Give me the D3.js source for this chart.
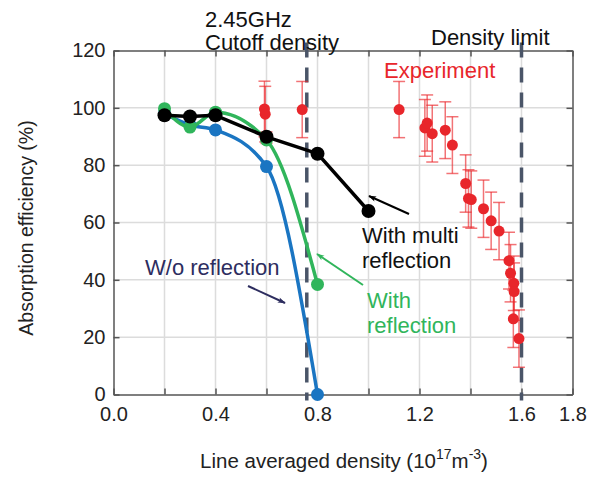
<!DOCTYPE html>
<html><head><meta charset="utf-8">
<script src="https://cdn.jsdelivr.net/npm/d3@7"></script>
<style>body{margin:0;background:#fff}svg{display:block;font-family:"Liberation Sans",Arial,sans-serif}</style>
</head><body><svg id="c" width="602" height="479"></svg>
<script>
// ---- data ----
const simX = [0.2, 0.3, 0.4, 0.6, 0.8];
const woReflection = [98, 94, 92.3, 79.5, 0];
const withReflection = [99.7, 93.3, 98.5, 88.8, 38.4];
const multiX = [0.2, 0.3, 0.4, 0.6, 0.8, 1.0];
const withMultiReflection = [97.4, 97.0, 97.4, 89.9, 84.0, 64.0];
const expX = [0.592, 0.595, 0.600, 0.740, 1.120, 1.221, 1.230, 1.250, 1.301, 1.329, 1.381, 1.392, 1.403, 1.451, 1.481, 1.512, 1.551, 1.557, 1.570, 1.571, 1.568, 1.590];
const expY = [99.6, 97.8, 89.6, 99.4, 99.4, 93.0, 94.7, 91.0, 92.2, 87.0, 73.6, 68.4, 68.0, 64.8, 60.6, 57.0, 46.7, 42.3, 38.8, 35.9, 26.4, 19.5];
const expErr = [9.7, 9.7, 2, 9.8, 9.8, 9.9, 9.8, 9.9, 9.9, 9.9, 10, 10, 10, 10, 10, 10, 9.9, 10, 9.5, 10, 10, 10];
const cutoffDensity = 0.758;
const densityLimit = 1.6;
const xTicks = [0, 0.2, 0.4, 0.6, 0.8, 1.0, 1.2, 1.4, 1.6, 1.8];
const xTickLabels = ["0.0", "", "0.4", "", "0.8", "", "1.2", "", "1.6", "1.8"];
const yTicks = [0, 20, 40, 60, 80, 100, 120];

// ---- chart ----
const svg = d3.select("#c");
const x = d3.scaleLinear().domain([0, 1.8]).range([113.5, 572.5]);
const y = d3.scaleLinear().domain([0, 120]).range([394.5, 50.5]);
const X0 = x.range()[0], X1 = x.range()[1], Y0 = y.range()[0], Y1 = y.range()[1];

// grid
const grid = svg.append("g").attr("stroke", "#dcdcdc").attr("stroke-width", 1.5);
grid.selectAll("line.v").data(xTicks.slice(1, -1)).join("line")
  .attr("x1", d => x(d)).attr("x2", d => x(d)).attr("y1", Y1).attr("y2", Y0);
grid.selectAll("line.h").data(yTicks.slice(1, -1)).join("line")
  .attr("x1", X0).attr("x2", X1).attr("y1", d => y(d)).attr("y2", d => y(d));

// axes
const fmtX = d => xTickLabels[xTicks.findIndex(t => Math.abs(t - d) < 1e-9)];
function styleAxis(g) {
  g.select(".domain").attr("stroke", "#555").attr("stroke-width", 1.5);
  g.selectAll(".tick line").attr("stroke", "#555").attr("stroke-width", 1.5);
  g.selectAll(".tick text").attr("fill", "#222").style("font-size", "20px").style("font-family", "Liberation Sans, Arial, sans-serif");
}
svg.append("g").attr("transform", `translate(0,${Y0})`)
  .call(d3.axisBottom(x).tickValues(xTicks).tickFormat(fmtX).tickSizeInner(-6).tickSizeOuter(0).tickPadding(12))
  .call(styleAxis);
svg.append("g").attr("transform", `translate(0,${Y1})`)
  .call(d3.axisTop(x).tickValues(xTicks).tickFormat("").tickSizeInner(-6).tickSizeOuter(0))
  .call(styleAxis);
svg.append("g").attr("transform", `translate(${X0},0)`)
  .call(d3.axisLeft(y).tickValues(yTicks).tickSizeInner(-6).tickSizeOuter(0).tickPadding(8))
  .call(styleAxis);
svg.append("g").attr("transform", `translate(${X1},0)`)
  .call(d3.axisRight(y).tickValues(yTicks).tickFormat("").tickSizeInner(-6).tickSizeOuter(0))
  .call(styleAxis);

// dashed reference lines
const dashColor = "#4a5568";
svg.selectAll("line.ref").data([cutoffDensity, densityLimit]).join("line")
  .attr("x1", d => x(d)).attr("x2", d => x(d)).attr("y1", Y1 - 8).attr("y2", Y0 + 6)
  .attr("stroke", dashColor).attr("stroke-width", 3.5).attr("stroke-dasharray", "15,10");

// experiment error bars
const errColor = "rgba(235,40,45,0.65)";
const eb = svg.append("g").attr("stroke", errColor).attr("stroke-width", 1.5);
expX.forEach((vx, i) => {
  const cx = x(vx), t = y(expY[i] + expErr[i]), b = y(expY[i] - expErr[i]);
  eb.append("line").attr("x1", cx).attr("x2", cx).attr("y1", t).attr("y2", b);
  eb.append("line").attr("x1", cx - 6).attr("x2", cx + 6).attr("y1", t).attr("y2", t);
  eb.append("line").attr("x1", cx - 6).attr("x2", cx + 6).attr("y1", b).attr("y2", b);
});

// simulation lines
function series(xs, ys, color, curve, r) {
  const pts = xs.map((d, i) => [d, ys[i]]);
  svg.append("path").datum(pts)
    .attr("d", d3.line().x(d => x(d[0])).y(d => y(d[1])).curve(curve))
    .attr("fill", "none").attr("stroke", color).attr("stroke-width", 3.5).attr("stroke-linejoin", "round");
  svg.append("g").selectAll("circle").data(pts).join("circle")
    .attr("cx", d => x(d[0])).attr("cy", d => y(d[1])).attr("r", r).attr("fill", color);
}
const blue = "#1a75c2", green = "#30b55b";
series(simX, woReflection, blue, d3.curveMonotoneX, 6.5);
series(simX, withReflection, green, d3.curveMonotoneX, 6.5);

// experiment points
svg.append("g").selectAll("circle").data(expX).join("circle")
  .attr("cx", d => x(d)).attr("cy", (d, i) => y(expY[i])).attr("r", 5.5).attr("fill", "#e8262b");

series(multiX, withMultiReflection, "#000", d3.curveLinear, 7);

// arrows
const defs = svg.append("defs");
function marker(id, color) {
  defs.append("marker").attr("id", id).attr("viewBox", "0 0 10 10").attr("refX", 9).attr("refY", 5)
    .attr("markerWidth", 10).attr("markerHeight", 8).attr("markerUnits", "userSpaceOnUse").attr("orient", "auto")
    .append("path").attr("d", "M0,1.5 L10,5 L0,8.5 L2.5,5 Z").attr("fill", color);
}
const navy = "#2d2d5f";
marker("aN", navy); marker("aK", "#000"); marker("aG", green);
function arrow(x1, y1, x2, y2, color, m) {
  svg.append("line").attr("x1", x1).attr("y1", y1).attr("x2", x2).attr("y2", y2)
    .attr("stroke", color).attr("stroke-width", 2).attr("marker-end", `url(#${m})`);
}
arrow(248, 286, 285, 303, navy, "aN");
arrow(409, 214, 369, 196, "#000", "aK");
arrow(363, 285, 317, 254, green, "aG");

// texts
function txt(s, tx, ty, color, size) {
  return svg.append("text").attr("x", tx).attr("y", ty).attr("fill", color).style("font-size", size + "px").text(s);
}
txt("2.45GHz", 205, 27, "#111", 22);
txt("Cutoff density", 205, 50, "#111", 22);
txt("Density limit", 431, 45, "#111", 22);
txt("Experiment", 384, 78, "#e8262b", 22);
txt("With multi", 362, 243, "#111", 22);
txt("reflection", 362, 268, "#111", 22);
txt("With", 367, 308, green, 22);
txt("reflection", 367, 333, green, 22);
txt("W/o reflection", 145, 275, navy, 22);

// axis titles
svg.append("text").attr("transform", "translate(33,228) rotate(-90)").attr("text-anchor", "middle")
  .attr("fill", "#222").style("font-size", "19.5px").text("Absorption efficiency (%)");
const xt = svg.append("text").attr("x", 344).attr("y", 468).attr("text-anchor", "middle")
  .attr("fill", "#222").style("font-size", "20.5px");
xt.append("tspan").text("Line averaged density (10");
xt.append("tspan").attr("dy", -9).style("font-size", "14px").text("17");
xt.append("tspan").attr("dy", 9).text("m");
xt.append("tspan").attr("dy", -9).style("font-size", "14px").text("-3");
xt.append("tspan").attr("dy", 9).text(")");
</script></body></html>
